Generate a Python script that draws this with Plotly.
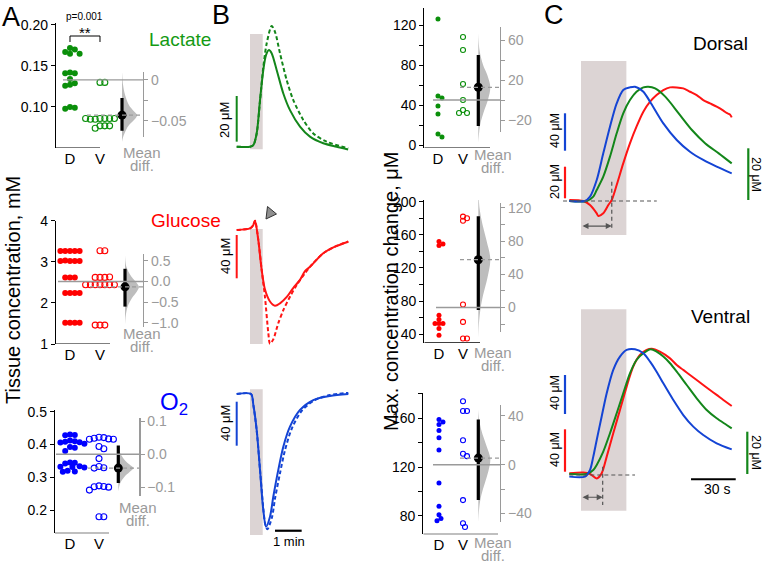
import plotly.graph_objects as go

W, H = 762, 562
FONT = "Liberation Sans, Arial, sans-serif"
GREEN, RED, BLUE = "#0a8f0a", "#ff0000", "#0000ff"
T_GREEN, T_RED, T_BLUE = "#13861a", "#ff1414", "#1444d4"
GREY = "#9a9a9a"
STIM_GREY = "#dcd4d4"

# ---------------- A: tissue concentration, mM ----------------
lac_D = [0.172, 0.170, 0.167, 0.165, 0.165, 0.142, 0.141, 0.141, 0.134,
         0.129, 0.127, 0.126, 0.100, 0.099, 0.098]
lac_V = [0.130, 0.130, 0.086, 0.086, 0.085, 0.086, 0.085, 0.086, 0.086,
         0.077, 0.077, 0.074, 0.077]
lac_means = [0.133, 0.090]
lac_diff = -0.043
lac_ci = [-0.062, -0.022]
lac_kde_y = [0.010, -0.006, -0.018, -0.031, -0.037, -0.043, -0.049, -0.055, -0.061, -0.070, -0.076]
lac_kde_w = [0, 0.07, 0.2, 0.47, 0.73, 1.0, 0.8, 0.47, 0.27, 0.07, 0]

glu_D = [3.26, 3.26, 3.26, 3.26, 3.26, 3.02, 3.02, 3.03, 3.02, 3.02,
         2.62, 2.62, 2.62, 2.24, 2.24, 2.24, 2.24, 1.52, 1.52, 1.52, 1.52]
glu_V = [3.27, 3.27, 2.62, 2.62, 2.62, 2.63, 2.44, 2.44, 2.44, 2.44, 2.44,
         2.44, 2.44, 1.46, 1.46, 1.46]
glu_means = [2.52, 2.39]
glu_diff = -0.13
glu_ci = [-0.61, 0.31]
glu_kde_y = [0.64, 0.36, 0.12, -0.04, -0.136, -0.24, -0.40, -0.60, -0.84, -1.08]
glu_kde_w = [0, 0.1, 0.45, 0.85, 1.0, 0.85, 0.5, 0.2, 0.05, 0]

o2_D = [0.430, 0.429, 0.428, 0.412, 0.410, 0.408, 0.407, 0.406, 0.402, 0.392,
        0.390, 0.380, 0.345, 0.344, 0.342, 0.334, 0.332, 0.331, 0.330, 0.320,
        0.318, 0.317]
o2_V = [0.422, 0.421, 0.419, 0.417, 0.416, 0.416, 0.394, 0.387, 0.357, 0.333,
        0.329, 0.328, 0.274, 0.272, 0.271, 0.270, 0.261, 0.180, 0.180]
o2_means = [0.370, 0.328]
o2_diff = -0.042
o2_ci = [-0.087, 0.027]
o2_kde_y = [0.024, 0.002, -0.0185, -0.031, -0.042, -0.054, -0.069, -0.089, -0.114]
o2_kde_w = [0, 0.15, 0.45, 0.75, 1.0, 0.75, 0.4, 0.12, 0]

# ---------------- B: max. concentration change, uM ----------------
lacmax_D = [126, 49, 47, 39, 31, 11, 8]
lacmax_V = [108, 95, 61, 45, 35, 32, 32]
lacmax_means = [45, 57.7]
lacmax_diff = 12.7
lacmax_ci = [-26, 45]
lacmax_kde_y = [67, 50, 35, 25, 13, 0, -12, -25, -35, -43]
lacmax_kde_w = [0, 0.1, 0.4, 0.75, 1.0, 0.8, 0.45, 0.15, 0.05, 0]

glumax_D = [152, 149, 147, 63, 58, 53, 53, 53, 47, 39]
glumax_V = [216, 209, 182, 180, 177, 76, 55, 35, 35]
glumax_means = [72.4, 130]
glumax_diff = 57.6
glumax_ci = [-3, 110]
glumax_kde_y = [143, 120, 100, 80, 58, 35, 15, 0, -20, -39]
glumax_kde_w = [0, 0.1, 0.35, 0.7, 1.0, 0.75, 0.4, 0.2, 0.05, 0]

o2max_D = [159, 157, 155, 150, 144, 134, 107, 88, 81, 78, 76]
o2max_V = [174, 166, 166, 142, 131, 129, 93, 74, 71]
o2max_means = [122, 127.4]
o2max_diff = 5.4
o2max_ci = [-29, 37]
o2max_kde_y = [45, 35, 25, 15, 5, -5, -15, -25, -35, -48]
o2max_kde_w = [0, 0.1, 0.35, 0.7, 1.0, 0.85, 0.55, 0.25, 0.08, 0]

# ---------------- B: example traces (time s, uM) ----------------
stim_B = [30, 58.6]
lacB_t = [0, 30, 37.5, 45, 52.5, 60, 66, 72.7, 78.7, 90, 105, 120, 142.6, 165, 195, 225, 251]
lacB_solid = [0, 0, 0.7, 5.8, 20.4, 33.6, 40.1, 42.3, 40.9, 33.6, 23.3, 16.0, 8.8, 4.4, 1.5, 0, -1.2]
lacB_dash_t = [0, 30, 37.5, 45, 52.5, 60, 67.5, 78.7, 86.2, 97.5, 112.5, 127.5, 150, 172.5, 202.5, 251]
lacB_dash = [0, 0, 0.7, 5.8, 20.0, 35.0, 45.2, 52.8, 50.3, 40.9, 29.2, 20.4, 11.7, 5.8, 2.2, -0.7]

gluB_t = [0, 30, 36.7, 41.2, 48.6, 56.3, 63.7, 75, 86.3, 97.5, 113.3, 126.8, 142.6, 153.8,
          165.1, 195, 221.4, 251.4]
gluB_solid = [0, 1.5, 4, 8.6, -9.2, -37, -55, -66, -70, -67.7, -61.6, -53.8, -46, -38,
              -34, -21.5, -15.4, -10.8]
gluB_dash_t = [0, 30, 36.7, 41.2, 48.6, 56.3, 63.7, 71.2, 75, 82.4, 93.7, 105, 120, 135.1,
               153.8, 165.1, 195, 221.4, 251.4]
gluB_dash = [0, 1.5, 4, 8.6, -9.2, -37, -62, -95, -105, -101, -86, -74, -61.6, -50.8,
             -40, -34, -21.5, -15.4, -10.5]

o2B_t = [0, 32.2, 37.5, 45, 52.5, 59.9, 66, 75, 82.4, 93.7, 105, 120, 142.6, 172.5, 210, 251.4]
o2B_solid = [0, 0, -10, -32.7, -69, -105.5, -120.6, -111.5, -93.4, -69, -47.9, -29.7,
             -14.5, -5.5, -1.8, 0]
o2B_dash_t = [0, 32.2, 37.5, 45, 52.5, 59.9, 64, 69, 79.5, 86.3, 97.5, 108.8, 124.5, 147,
              176, 210, 251.4]
o2B_dash = [0, 0, -10, -33, -69, -104, -118, -123, -112, -95, -72, -51, -31, -15, -5.5, -1, 1]

# ---------------- C: normalised responses (fraction of peak) ----------------
stim_C = [7.85, 38.3]
onset_C = [28.5, 22.4]
dors_blue_t = [0, 10.5, 13.9, 18.4, 22.8, 27.3, 31.8, 36.2, 40.7, 44.1, 49.7, 54.2, 63.1,
               72.1, 81.0, 89.9, 98.9, 109.0]
dors_blue = [0, 0, 0.038, 0.184, 0.417, 0.650, 0.854, 0.971, 0.994, 1.0, 0.956, 0.869,
             0.679, 0.534, 0.431, 0.359, 0.300, 0.242]
dors_green_t = [0, 11.7, 16.1, 18.4, 22.8, 27.3, 31.8, 36.2, 40.7, 45.1, 49.7, 53.0, 57.6,
                64.4, 73.4, 82.3, 91.3, 100.3, 109.0]
dors_green = [0, 0, 0.038, 0.096, 0.213, 0.388, 0.592, 0.767, 0.883, 0.956, 0.994, 1.0,
              0.985, 0.913, 0.767, 0.621, 0.504, 0.417, 0.329]
dors_red_t = [0, 9.4, 13.9, 18.4, 19.5, 22.8, 26.2, 28.5, 31.8, 36.2, 40.7, 45.1, 49.7,
              54.2, 58.6, 63.1, 67.6, 72.1, 76.5, 81.0, 85.5, 89.9, 94.4, 98.9, 103.4,
              105.6, 107.8, 109.0]
dors_red = [0.009, 0, -0.035, -0.108, -0.131, -0.108, -0.035, 0.009, 0.14, 0.329, 0.504,
            0.650, 0.781, 0.869, 0.927, 0.971, 0.994, 0.994, 0.985, 0.956, 0.927, 0.883,
            0.854, 0.825, 0.790, 0.770, 0.757, 0.732]
vent_blue_t = [0, 10.5, 13.9, 16.1, 18.4, 21.7, 25.1, 29.5, 34.0, 38.5, 44.1, 49.7, 54.2,
               58.6, 63.1, 69.8, 76.5, 83.2, 89.9, 98.9, 109.0]
vent_blue = [-0.013, -0.013, 0.04, 0.146, 0.279, 0.464, 0.65, 0.836, 0.942, 0.995, 1.0,
             0.968, 0.902, 0.822, 0.729, 0.597, 0.477, 0.385, 0.318, 0.252, 0.204]
vent_green_t = [0, 11.7, 16.1, 18.4, 22.8, 27.3, 31.8, 36.2, 40.7, 45.1, 49.7, 54.6, 58.6,
                63.1, 67.6, 72.1, 78.8, 85.5, 92.2, 98.9, 105.6, 109.0]
vent_green = [0.008, 0.008, 0.04, 0.08, 0.186, 0.332, 0.491, 0.65, 0.809, 0.915, 0.968, 1.0,
              0.981, 0.942, 0.889, 0.822, 0.716, 0.61, 0.517, 0.451, 0.398, 0.371]
vent_red_t = [0, 9.4, 13.9, 18.4, 21.7, 25.1, 29.5, 34.0, 38.5, 42.9, 47.4, 51.9, 55.3,
              60.8, 67.6, 72.1, 76.5, 81.0, 85.5, 89.9, 94.4, 98.9, 103.4, 109.0]
vent_red = [0.013, 0.019, 0.008, -0.027, 0.013, 0.146, 0.332, 0.517, 0.703, 0.862, 0.955,
            0.995, 1.005, 0.981, 0.928, 0.875, 0.836, 0.796, 0.756, 0.716, 0.676, 0.637,
            0.597, 0.549]

fig = go.Figure()
layout = {}
shapes = []
annotations = []
n_axes = {'x': 0, 'y': 0}


def next_ref(kind):
    n_axes[kind] += 1
    n = n_axes[kind]
    return kind + ('' if n == 1 else str(n))


def key(ref):
    return ref[0] + 'axis' + ref[1:]


def label(text, x, y, size=14, color='black', angle=0, xanchor='center'):
    annotations.append(dict(text=text, x=x / W, y=1 - y / H, xref='paper', yref='paper',
                            showarrow=False, textangle=angle, xanchor=xanchor,
                            yanchor='middle', borderpad=0,
                            font=dict(size=size, color=color, family=FONT)))


def pline(x0, y0, x1, y1, color, width=2, dash='solid'):
    """Line in pixel coordinates of the picture."""
    shapes.append(dict(type='line', xref='paper', yref='paper', x0=x0 / W, x1=x1 / W,
                       y0=1 - y0 / H, y1=1 - y1 / H, line=dict(color=color, width=width, dash=dash)))


def swarm(values, uy, d):
    """Simple beeswarm, returns horizontal offsets in pixels."""
    placed, offs = [], []
    cands = [0.0]
    for i in range(1, 40):
        cands += [i * d * 0.5, -i * d * 0.5]
    for v in values:
        yp = v * uy
        for c in cands:
            if all((c - a) ** 2 + (yp - b) ** 2 >= d * d for a, b in placed):
                break
        placed.append((c, yp))
        offs.append(c)
    return offs


def dot_panel(g, d_vals, v_vals, means, diff, ci, kde_y, kde_w, color, ticks, dticks):
    xr, yr, dr = next_ref('x'), next_ref('y'), next_ref('y')
    ux = g['pV'] - g['pD']

    def xv(p):
        return (p - g['pD']) / ux
    (yt, vt), (yb, vb) = g['ytop'], g['ybot']
    uy = (yb - yt) / (vt - vb)

    def yv(p):
        return vb + (yb - p) / uy
    m_d, m_v = means
    layout[key(xr)] = dict(domain=[g['x0'] / W, g['x1'] / W], range=[xv(g['x0']), xv(g['x1'])],
                           anchor=yr, tickvals=[0, 1], ticktext=['D', 'V'], ticks='',
                           showline=False, showgrid=False, zeroline=False,
                           tickfont=dict(size=15, color='black'))
    layout[key(yr)] = dict(domain=[1 - yb / H, 1 - yt / H], range=[vb, vt], anchor=xr,
                           showline=True, linecolor='black', linewidth=1.2, ticks='outside',
                           ticklen=4, tickcolor='black', tickvals=ticks[0], ticktext=ticks[1],
                           showgrid=False, zeroline=False, tickfont=dict(size=14, color='black'))
    layout[key(dr)] = dict(domain=[1 - g['dbot'] / H, 1 - g['dtop'] / H],
                           range=[yv(g['dbot']) - m_d, yv(g['dtop']) - m_d],
                           anchor='free', position=g['dax'] / W, side='right', showline=True,
                           linecolor=GREY, linewidth=1.2, ticks='outside', ticklen=4,
                           tickcolor=GREY, tickvals=dticks[0], ticktext=dticks[1],
                           showgrid=False, zeroline=False, tickfont=dict(size=14, color=GREY))
    # keeps the difference axis drawn
    fig.add_trace(go.Scatter(x=[xv(g['x0'])], y=[0], xaxis=xr, yaxis=dr, mode='markers',
                             marker=dict(opacity=0), showlegend=False, hoverinfo='skip'))
    ms = g['ms']
    offs_d = swarm(d_vals, uy, ms * 0.8)
    offs_v = swarm(v_vals, uy, ms * 0.8)
    xd = xv(g['dot'])
    vx = [xd] + [xd + w * g['vw'] / ux for w in kde_w] + [xd]
    vy = [m_d + kde_y[0]] + [m_d + y for y in kde_y] + [m_d + kde_y[-1]]
    fig.add_trace(go.Scatter(x=vx, y=vy, xaxis=xr, yaxis=yr, mode='lines', fill='toself',
                             fillcolor='#bdbdbd', line=dict(width=0, shape='spline'),
                             showlegend=False))
    fig.add_trace(go.Scatter(x=[o / ux for o in offs_d], y=d_vals, xaxis=xr, yaxis=yr,
                             mode='markers', marker=dict(color=color, size=ms, line_width=0),
                             showlegend=False))
    fig.add_trace(go.Scatter(x=[1 + o / ux for o in offs_v], y=v_vals, xaxis=xr, yaxis=yr,
                             mode='markers', marker=dict(symbol='circle-open', color=color,
                                                         size=ms, line=dict(width=1.1, color=color)),
                             showlegend=False))
    fig.add_trace(go.Scatter(x=[xd, xd], y=[m_d + ci[0], m_d + ci[1]], xaxis=xr, yaxis=yr,
                             mode='lines', line=dict(color='black', width=3.2), showlegend=False))
    fig.add_trace(go.Scatter(x=[xd], y=[m_d + diff], xaxis=xr, yaxis=yr, mode='markers',
                             marker=dict(color='black', size=9), showlegend=False))
    shapes.append(dict(type='line', xref=xr, yref=yr, x0=xv(g['d_start']), x1=xv(g['m_end']),
                       y0=m_d, y1=m_d, line=dict(color=GREY, width=1.4)))
    shapes.append(dict(type='line', xref=xr, yref=yr, x0=xv(g['v_start']), x1=xv(g['m_end']),
                       y0=m_v, y1=m_v, line=dict(color=GREY, width=1.3, dash='4px,3px')))
    shapes.append(dict(type='line', xref=xr, yref=yr, x0=xv(g['x0']), x1=xv(g['line_end']),
                       y0=vb, y1=vb, line=dict(color='black', width=1.2)))
    lx, ly = g['label']
    label('Mean', lx, ly, 15, GREY)
    label('diff.', lx, ly + 13, 15, GREY)


def trace_axes(xpx, ypx, x_map, y_map):
    """Hidden axes for example traces; maps give (origin px, px per unit)."""
    xr, yr = next_ref('x'), next_ref('y')
    x0, sx = x_map
    y0, sy = y_map
    layout[key(xr)] = dict(domain=[xpx[0] / W, xpx[1] / W],
                           range=[(xpx[0] - x0) / sx, (xpx[1] - x0) / sx], anchor=yr, visible=False)
    layout[key(yr)] = dict(domain=[1 - ypx[1] / H, 1 - ypx[0] / H],
                           range=[(y0 - ypx[1]) / sy, (y0 - ypx[0]) / sy], anchor=xr, visible=False)
    return xr, yr


def line_trace(xr, yr, t, v, color, dash='solid', width=2):
    fig.add_trace(go.Scatter(x=t, y=v, xaxis=xr, yaxis=yr, mode='lines',
                             line=dict(color=color, width=width, dash=dash, shape='spline',
                                       smoothing=0.8), showlegend=False, hoverinfo='skip'))


def stim_rect(xr, stim, ytop, ybot):
    shapes.append(dict(type='rect', xref=xr, yref='paper', x0=stim[0], x1=stim[1],
                       y0=1 - ybot / H, y1=1 - ytop / H, fillcolor=STIM_GREY,
                       line_width=0, layer='below'))


# ---------- panel A ----------
dot_panel(dict(x0=56, x1=150, pD=70, pV=100, ytop=(23, 0.2024), ybot=(148, 0.05),
               dax=143, dtop=72, dbot=137, dot=122, vw=15, ms=6, d_start=63, v_start=87,
               m_end=143, line_end=100, label=(142, 152)),
          lac_D, lac_V, lac_means, lac_diff, lac_ci, lac_kde_y, lac_kde_w, GREEN,
          ([0.10, 0.15, 0.20], ['0.10', '0.15', '0.20']),
          ([0, -0.025, -0.05], ['0', '', '\u22120.05']))
dot_panel(dict(x0=56, x1=150, pD=70, pV=100, ytop=(220.7, 4.0), ybot=(344, 1.0),
               dax=143, dtop=254, dbot=326.7, dot=125, vw=14, ms=6, d_start=58, v_start=90,
               m_end=143, line_end=110, label=(142, 333)),
          glu_D, glu_V, glu_means, glu_diff, glu_ci, glu_kde_y, glu_kde_w, RED,
          ([1, 2, 3, 4], ['1', '2', '3', '4']),
          ([0.5, 0, -0.5, -1.0], ['0.5', '0.0', '\u22120.5', '\u22121.0']))
dot_panel(dict(x0=55, x1=150, pD=70, pV=99, ytop=(410, 0.505), ybot=(533.3, 0.1294),
               dax=139.3, dtop=417.7, dbot=496, dot=118.3, vw=15, ms=6, d_start=56, v_start=88,
               m_end=139.3, line_end=109, label=(138, 507)),
          o2_D, o2_V, o2_means, o2_diff, o2_ci, o2_kde_y, o2_kde_w, BLUE,
          ([0.2, 0.3, 0.4, 0.5], ['0.2', '0.3', '0.4', '0.5']),
          ([0.1, 0, -0.1], ['0.1', '0.0', '\u22120.1']))

# ---------- panel B, dot plots ----------
dot_panel(dict(x0=424.3, x1=505, pD=438, pV=463, ytop=(8, 137), ybot=(148, -3),
               dax=500, dtop=27, dbot=132, dot=478.3, vw=12, ms=5, d_start=433, v_start=460,
               m_end=500, line_end=490, label=(493, 155)),
          lacmax_D, lacmax_V, lacmax_means, lacmax_diff, lacmax_ci, lacmax_kde_y,
          lacmax_kde_w, GREEN,
          ([0, 20, 40, 60, 80, 100, 120], ['0', '', '40', '', '80', '', '120']),
          ([-20, 0, 20, 40, 60], ['\u221220', '', '20', '', '60']))
dot_panel(dict(x0=424.3, x1=505, pD=439, pV=463, ytop=(200, 202), ybot=(342.7, 29.9),
               dax=500, dtop=202.7, dbot=331.7, dot=478.3, vw=12, ms=5, d_start=436, v_start=460,
               m_end=500, line_end=480, label=(493, 352)),
          glumax_D, glumax_V, glumax_means, glumax_diff, glumax_ci, glumax_kde_y,
          glumax_kde_w, RED,
          ([40, 60, 80, 100, 120, 140, 160, 180, 200],
           ['40', '', '80', '', '120', '', '160', '', '200']),
          ([-20, 0, 20, 40, 60, 80, 100, 120], ['', '0', '', '40', '', '80', '', '120']))
dot_panel(dict(x0=423.3, x1=505, pD=439, pV=463, ytop=(393.3, 180.5), ybot=(534.3, 65),
               dax=500, dtop=405, dbot=521.7, dot=478.3, vw=12, ms=5, d_start=433, v_start=460,
               m_end=500, line_end=498, label=(493, 542)),
          o2max_D, o2max_V, o2max_means, o2max_diff, o2max_ci, o2max_kde_y,
          o2max_kde_w, BLUE,
          ([80, 100, 120, 140, 160, 180], ['80', '', '120', '', '160', '']),
          ([-40, -20, 0, 20, 40], ['\u221240', '', '0', '', '40']))

# ---------- panel B, traces ----------
BX = (236.7, 0.444)
xr, yr = trace_axes((230, 352), (20, 155), BX, (146.7, 45.7 / 20))
stim_rect(xr, stim_B, 34, 149.3)
line_trace(xr, yr, lacB_dash_t, lacB_dash, T_GREEN, '4px,2.5px')
line_trace(xr, yr, lacB_t, lacB_solid, T_GREEN)
shapes.append(dict(type='line', xref=xr, yref=yr, x0=0, x1=0, y0=2.2, y1=22.2,
                   line=dict(color=T_GREEN, width=2)))
label('20 \u03bcM', 225, 120, 13, angle=-90)

xr, yr = trace_axes((230, 352), (200, 350), BX, (230, 1.083))
stim_rect(xr, stim_B, 229, 344)
line_trace(xr, yr, gluB_dash_t, gluB_dash, T_RED, '4px,2.5px')
line_trace(xr, yr, gluB_t, gluB_solid, T_RED)
shapes.append(dict(type='line', xref=xr, yref=yr, x0=0, x1=0, y0=-4.6, y1=-44.6,
                   line=dict(color=T_RED, width=2)))
label('40 \u03bcM', 225, 256, 13, angle=-90)
shapes.append(dict(type='path', xref='paper', yref='paper',
                   path='M {:.5f},{:.5f} L {:.5f},{:.5f} L {:.5f},{:.5f} Z'.format(
                       266 / W, 1 - 219 / H, 267.5 / W, 1 - 206.5 / H, 276.5 / W, 1 - 214 / H),
                   fillcolor='#8f8f8f', line=dict(color='#333333', width=1)))

xr, yr = trace_axes((230, 352), (380, 545), BX, (394, 1.1))
stim_rect(xr, stim_B, 389.3, 535)
line_trace(xr, yr, o2B_dash_t, o2B_dash, T_BLUE, '4px,2.5px')
line_trace(xr, yr, o2B_t, o2B_solid, T_BLUE)
shapes.append(dict(type='line', xref=xr, yref=yr, x0=0, x1=0, y0=-7, y1=-47,
                   line=dict(color=T_BLUE, width=2)))
shapes.append(dict(type='line', xref=xr, yref=yr, x0=86.3, x1=146.3, y0=-124.3, y1=-124.3,
                   line=dict(color='black', width=2.2)))
label('40 \u03bcM', 225, 423, 13, angle=-90)
label('1 min', 289, 541, 13)

# ---------- panel C ----------
CX = (569.3, 1.49)
for (ypx, base, unit, rect, curves, onset, dash_end, vline, arrow_y,
     bars, name, name_y) in [
        ((40, 245), 201, 114.3, (61, 235),
         [(dors_red_t, dors_red, T_RED), (dors_green_t, dors_green, T_GREEN),
          (dors_blue_t, dors_blue, T_BLUE)],
         onset_C[0], (-4.2, 58.7), (0.169, -0.254), -0.219,
         [(565, 113.3, 150.7, T_BLUE, '40 \u03bcM', 555, 131, -90),
          (565, 166.7, 198.3, T_RED, '20 \u03bcM', 555, 182, -90),
          (748.3, 148.3, 200, T_GREEN, '20 \u03bcM', 756, 174, 90)],
         'Dorsal', 43),
        ((290, 520), 475, 125.7, (309.3, 510.7),
         [(vent_red_t, vent_red, T_RED), (vent_green_t, vent_green, T_GREEN),
          (vent_blue_t, vent_blue, T_BLUE)],
         onset_C[1], (0, 44.1), (0.066, -0.239), -0.177,
         [(565, 375, 414, T_BLUE, '40 \u03bcM', 555, 393, -90),
          (565, 429.3, 471.7, T_RED, '40 \u03bcM', 555, 450, -90),
          (747.3, 431.7, 474, T_GREEN, '20 \u03bcM', 756, 452, 90)],
         'Ventral', 316)]:
    xr, yr = trace_axes((560, 742), ypx, CX, (base, unit))
    stim_rect(xr, stim_C, rect[0], rect[1])
    shapes.append(dict(type='line', xref=xr, yref=yr, x0=dash_end[0], x1=dash_end[1], y0=0, y1=0,
                       line=dict(color='#555555', width=1.2, dash='4px,3px')))
    shapes.append(dict(type='line', xref=xr, yref=yr, x0=onset, x1=onset, y0=vline[0], y1=vline[1],
                       line=dict(color='#555555', width=1.2, dash='4px,3px')))
    annotations.append(dict(x=onset, y=arrow_y, ax=stim_C[0], ay=arrow_y, xref=xr, yref=yr,
                            axref=xr, ayref=yr, text='', showarrow=True, arrowhead=2,
                            arrowside='end+start', arrowsize=1, arrowwidth=1.2,
                            arrowcolor='#555555'))
    for t, v, c in curves:
        line_trace(xr, yr, t, v, c)
    for bx, b0, b1, c, txt, tx, ty, ang in bars:
        pline(bx, b0, bx, b1, c, 2.2)
        label(txt, tx, ty, 12.5, angle=ang)
    label(name, 720, name_y, 19)
    if name == 'Ventral':
        shapes.append(dict(type='line', xref=xr, yref=yr, x0=81.7, x1=111.7, y0=-0.034,
                           y1=-0.034, line=dict(color='black', width=2.2)))
        label('30 s', 717, 489, 14)

# ---------- text ----------
label('A', 11, 17, 27)
label('B', 221, 15, 27)
label('C', 554, 15, 27)
label('Lactate', 148, 40, 19, '#149a14', xanchor='left')
label('Glucose', 150, 220, 19, RED, xanchor='left')
label('O<sub>2</sub>', 159, 403, 24, BLUE, xanchor='left')
label('Tissue concentration, mM', 13, 290, 20, angle=-90)
label('Max. concentration change, \u03bcM', 391, 292, 20, angle=-90)
label('p=0.001', 84, 17, 10)
label('**', 85, 32, 15)
shapes.append(dict(type='path', xref='paper', yref='paper',
                   path='M {:.5f},{:.5f} L {:.5f},{:.5f} L {:.5f},{:.5f} L {:.5f},{:.5f}'.format(
                       70 / W, 1 - 42 / H, 70 / W, 1 - 36 / H, 100 / W, 1 - 36 / H,
                       100 / W, 1 - 42 / H),
                   line=dict(color='black', width=1)))

fig.update_layout(width=W, height=H,
                  margin=dict(l=0, r=0, t=0, b=0, pad=0, autoexpand=False),
                  paper_bgcolor='white', plot_bgcolor='rgba(0,0,0,0)', showlegend=False,
                  hovermode=False, font=dict(family=FONT, color='black'),
                  shapes=shapes, annotations=annotations, **layout)
fig.write_html("out.html", config={'displayModeBar': False, 'staticPlot': True},
               post_script="document.body.style.margin = '0px';")
